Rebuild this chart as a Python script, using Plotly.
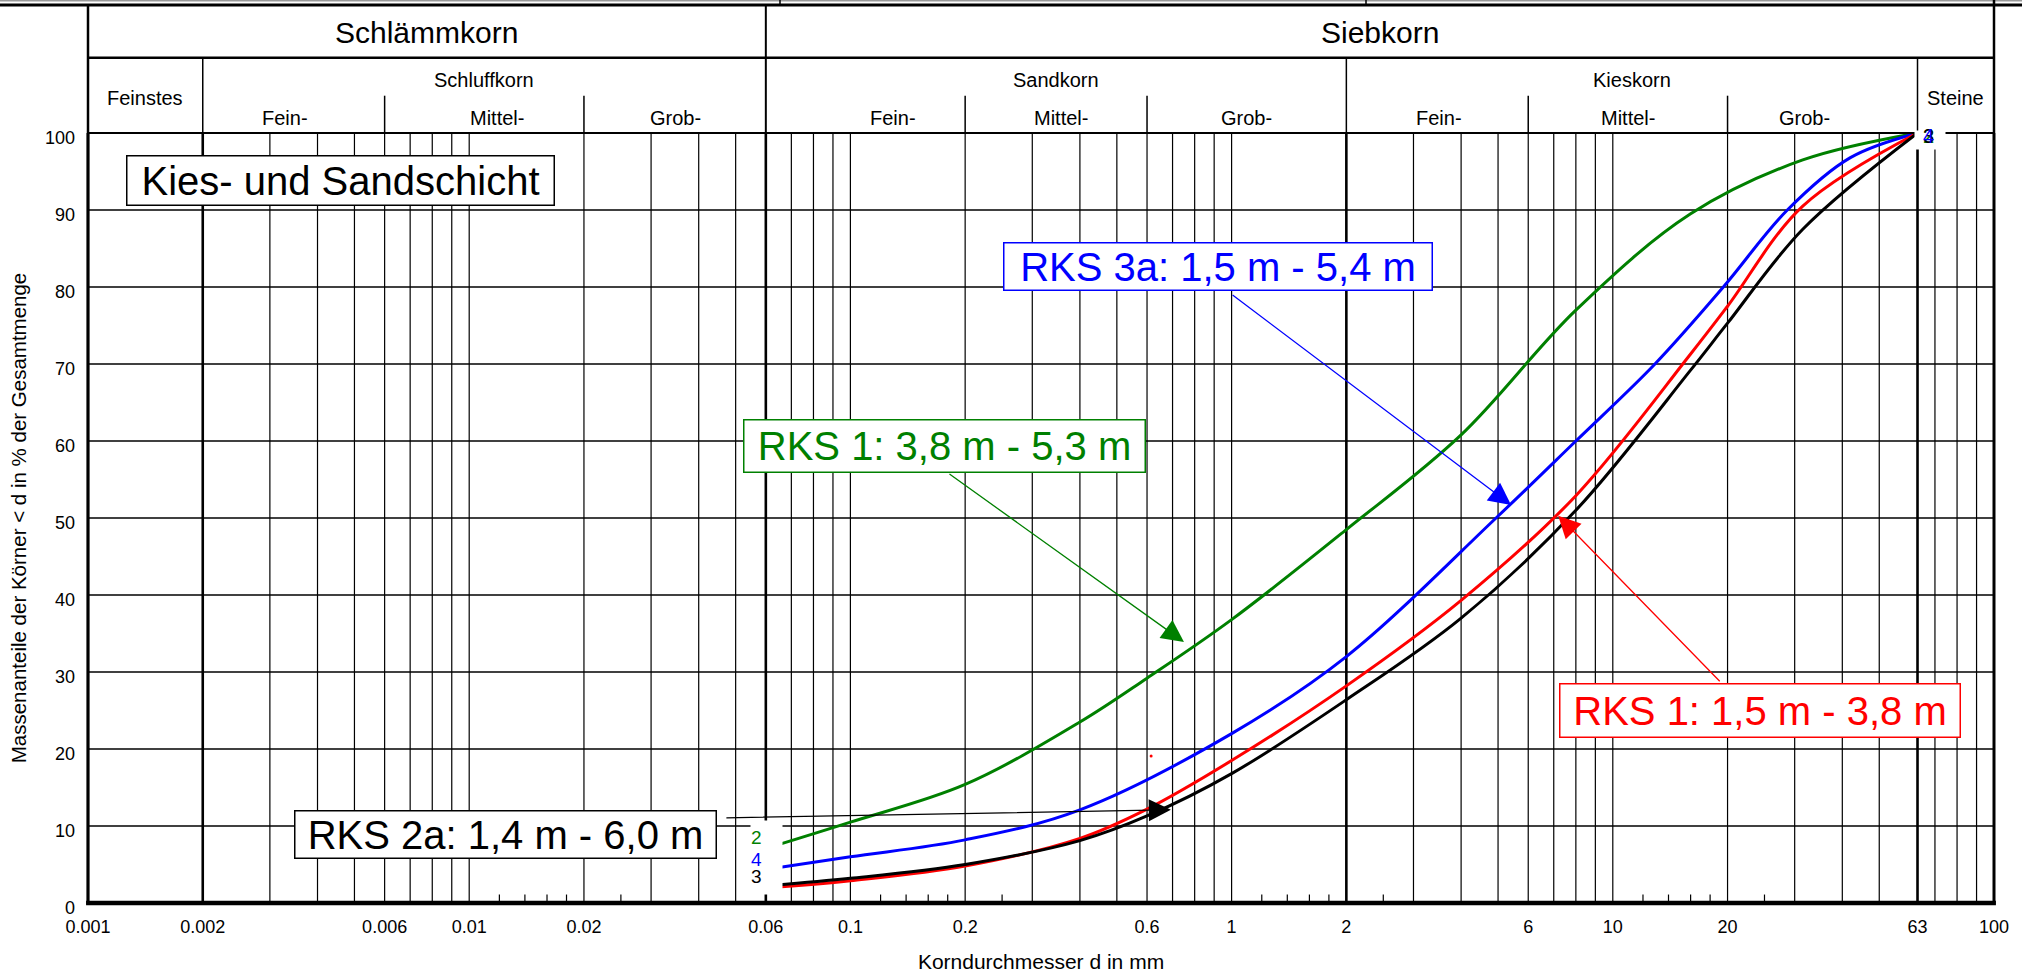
import numpy as np
import plotly.graph_objects as go

# ---------------- data ----------------
green_d   = [0.063, 0.1, 0.2, 0.4, 0.6, 1, 2, 4, 8, 16, 31.5, 63]
green_pct = [7.4, 10.5, 15.4, 23.5, 29.2, 36.8, 48.5, 60.8, 77.0, 89.5, 96.5, 100]

blue_d    = [0.063, 0.1, 0.2, 0.4, 1, 2, 4.94, 8.0, 12.9, 19.5, 28.7, 42, 63]
blue_pct  = [4.5, 6.0, 8.2, 12.1, 22.0, 32.0, 50, 60, 70, 80, 90, 96.8, 100]

red_d     = [0.066, 0.1, 0.2, 0.4, 0.6, 1, 2, 4, 8, 16, 20, 31.5, 63]
red_pct   = [2.1, 2.9, 4.8, 8.4, 12.2, 18.5, 28.2, 39.3, 52.9, 71.3, 77.5, 90.5, 100]

black_d   = [0.063, 0.1, 0.2, 0.4, 0.6, 1, 2, 4, 8, 16, 20, 31.5, 63]
black_pct = [2.3, 3.2, 5.0, 8.1, 11.3, 16.8, 26.4, 37.0, 51.0, 69.2, 75.3, 87.5, 100]

stray_d, stray_pct = [0.615], [19.1]

curve_labels = ["2", "4", "1", "3"]  # green, blue, red, black

# arrow tips (data) for the sample labels
tip_d   = [5.41, 0.75, 7.19, 0.693]
tip_pct = [51.7, 33.9, 50.3, 12.1]

x_tickvals = [0.001, 0.002, 0.006, 0.01, 0.02, 0.06, 0.1, 0.2, 0.6, 1, 2, 6, 10, 20, 63, 100]
x_ticktext = ["0.001", "0.002", "0.006", "0.01", "0.02", "0.06", "0.1", "0.2", "0.6", "1", "2", "6", "10", "20", "63", "100"]
y_tickvals = [0, 10, 20, 30, 40, 50, 60, 70, 80, 90, 100]

thin_lines  = [0.003, 0.004, 0.005, 0.006, 0.007, 0.008, 0.009, 0.01, 0.02, 0.03, 0.04, 0.05,
               0.07, 0.08, 0.09, 0.1, 0.2, 0.3, 0.4, 0.5, 0.6, 0.7, 0.8, 0.9, 1,
               3, 4, 5, 6, 7, 8, 9, 10, 20, 30, 40, 50, 70, 80, 90]
thick_lines = [0.002, 0.06, 2, 63]
short_ticks = [0.012, 0.014, 0.016, 0.018, 0.025, 0.12, 0.14, 0.16, 0.18, 0.25,
               1.2, 1.4, 1.6, 1.8, 2.5, 12, 14, 16, 18, 25]
h_lines     = [10, 20, 30, 40, 50, 60, 70, 80, 90]

# header classification (boundaries in mm)
main_groups = [("Schlämmkorn", 0.001, 0.06), ("Siebkorn", 0.06, 100)]
sub_groups  = [("Feinstes", 0.001, 0.002), ("Schluffkorn", 0.002, 0.06), ("Sandkorn", 0.06, 2),
               ("Kieskorn", 2, 63), ("Steine", 63, 100)]
fraction_dividers = [0.006, 0.02, 0.2, 0.6, 6, 20]
fraction_labels = ["Fein-", "Mittel-", "Grob-"]

# ---------------- layout geometry ----------------
W, H = 2022, 977
PL, PR, PT, PB = 88, 1994, 133, 903
FONT = "Liberation Sans, Arial, sans-serif"


def px2x(px):
    return (px - PL) / (PR - PL)


def px2y(py):
    return (PB - py) / (PB - PT)


def d2x(d):
    return (np.log10(d) + 3) / 5


def vlines(vals, y0, y1):
    xs, ys = [], []
    for v in vals:
        xs += [v, v, None]
        ys += [y0, y1, None]
    return xs, ys


fig = go.Figure()

# grid
xs, ys = vlines(thin_lines, 0, 100)
fig.add_trace(go.Scatter(x=xs, y=ys, mode="lines", line=dict(color="black", width=1.2), hoverinfo="skip"))
xs, ys = vlines(thick_lines, 0, 100)
fig.add_trace(go.Scatter(x=xs, y=ys, mode="lines", line=dict(color="black", width=2.6), hoverinfo="skip"))
xs, ys = vlines(short_ticks, 0, 1.1)
fig.add_trace(go.Scatter(x=xs, y=ys, mode="lines", line=dict(color="black", width=1.2), hoverinfo="skip"))
hx, hy = [], []
for v in h_lines:
    hx += [0.001, 100, None]
    hy += [v, v, None]
fig.add_trace(go.Scatter(x=hx, y=hy, mode="lines", line=dict(color="black", width=1.6), hoverinfo="skip"))

# curves
series = [(green_d, green_pct, "#008000"), (blue_d, blue_pct, "#0000ff"),
          (red_d, red_pct, "#ff0000"), (black_d, black_pct, "#000000")]
for d, p, c in series:
    fig.add_trace(go.Scatter(x=d, y=p, mode="lines", line=dict(color=c, width=3, shape="spline", smoothing=1.0),
                             hoverinfo="skip"))
fig.add_trace(go.Scatter(x=stray_d, y=stray_pct, mode="markers", marker=dict(color="#ff0000", size=3),
                         hoverinfo="skip"))

shapes = []
# plot borders
shapes.append(dict(type="line", xref="paper", yref="paper", x0=0, x1=0, y0=-0.002, y1=1, line=dict(color="black", width=3.2)))
shapes.append(dict(type="line", xref="paper", yref="paper", x0=1, x1=1, y0=-0.002, y1=1, line=dict(color="black", width=3)))
shapes.append(dict(type="line", xref="paper", yref="paper", x0=-0.001, x1=1.001, y0=0, y1=0, line=dict(color="black", width=4.5)))
shapes.append(dict(type="line", xref="paper", yref="paper", x0=0, x1=1, y0=1, y1=1, line=dict(color="black", width=2.2)))

# header frame
y_top, y_row, y_sub = px2y(5), px2y(57.7), px2y(95.7)
shapes.append(dict(type="line", xref="paper", yref="paper", x0=px2x(0), x1=px2x(W), y0=y_top, y1=y_top, line=dict(color="black", width=3)))
shapes.append(dict(type="line", xref="paper", yref="paper", x0=px2x(0), x1=px2x(W), y0=px2y(0.8), y1=px2y(0.8), line=dict(color="#999999", width=1.5)))
for xpx in [780, 1366]:
    shapes.append(dict(type="line", xref="paper", yref="paper", x0=px2x(xpx), x1=px2x(xpx), y0=px2y(0), y1=y_top, line=dict(color="black", width=1.5)))
shapes.append(dict(type="line", xref="paper", yref="paper", x0=0, x1=1, y0=y_row, y1=y_row, line=dict(color="black", width=2.5)))
shapes.append(dict(type="line", xref="paper", yref="paper", x0=0, x1=0, y0=1, y1=y_top, line=dict(color="black", width=2.5)))
shapes.append(dict(type="line", xref="paper", yref="paper", x0=1, x1=1, y0=1, y1=px2y(0), line=dict(color="black", width=2.5)))
for name, a, b in main_groups[1:]:
    shapes.append(dict(type="line", xref="paper", yref="paper", x0=d2x(a), x1=d2x(a), y0=1, y1=y_top, line=dict(color="black", width=2)))
for name, a, b in sub_groups[1:]:
    if a == 0.06:
        continue
    shapes.append(dict(type="line", xref="paper", yref="paper", x0=d2x(a), x1=d2x(a), y0=1, y1=y_row, line=dict(color="black", width=1.5)))
for v in fraction_dividers:
    shapes.append(dict(type="line", xref="paper", yref="paper", x0=d2x(v), x1=d2x(v), y0=1, y1=y_sub, line=dict(color="black", width=1.5)))

ann = []
C = dict(xanchor="center", yanchor="middle")
# header texts
for name, a, b in main_groups:
    ann.append(dict(text=name, xref="paper", yref="paper", x=(d2x(a) + d2x(b)) / 2, y=px2y(33),
                    showarrow=False, font=dict(size=30, family=FONT, color="black"), **C))
for name, a, b in sub_groups:
    yy = px2y(98) if name in ("Feinstes", "Steine") else px2y(80)
    ann.append(dict(text=name, xref="paper", yref="paper", x=(d2x(a) + d2x(b)) / 2, y=yy,
                    showarrow=False, font=dict(size=20, family=FONT, color="black"), **C))
frac_px = [285, 497, 675, 893, 1061, 1246, 1439, 1628, 1804]
for i, xpx in enumerate(frac_px):
    ann.append(dict(text=fraction_labels[i % 3], xref="paper", yref="paper", x=px2x(xpx), y=px2y(118),
                    showarrow=False, font=dict(size=20, family=FONT, color="black"), **C))

# title box
ann.append(dict(text="Kies- und Sandschicht", xref="paper", yref="paper", x=px2x(340.5), y=px2y(180.5),
                showarrow=False, font=dict(size=40, family=FONT, color="black"), bgcolor="white",
                bordercolor="black", borderwidth=1.5, borderpad=0, width=426, height=48, **C))

# sample labels with arrows
boxes = [
    ("RKS 3a: 1,5 m - 5,4 m", "#0000ff", 1218, 266.5, 427, 46, -280, -211),
    ("RKS 1: 3,8 m - 5,3 m", "#008000", 944.5, 446, 400, 51, -236, -169),
    ("RKS 1: 1,5 m - 3,8 m", "#ff0000", 1760, 710.5, 399, 52, 163, 167),
    ("RKS 2a: 1,4 m - 6,0 m", "#000000", 505.5, 834.5, 420, 46, -446, 8),
]
for i, (txt, col, cx, cy, bw, bh, ax, ay) in enumerate(boxes):
    ann.append(dict(text="", x=np.log10(tip_d[i]), y=tip_pct[i], xref="x", yref="y", showarrow=True,
                    ax=ax, ay=ay, arrowcolor=col, arrowwidth=1.3, arrowhead=2, arrowsize=3.4, standoff=0))
    ann.append(dict(text=txt, xref="paper", yref="paper", x=px2x(cx), y=px2y(cy), showarrow=False,
                    font=dict(size=40, family=FONT, color=col), bgcolor="white", bordercolor=col,
                    borderwidth=1.5, borderpad=0, width=bw, height=bh, **C))

# white patch behind the curve numbers at the start of the curves
ann.append(dict(text="", x=np.log10(0.06), y=5.9, xref="x", yref="y", showarrow=False, xshift=1,
                width=29, height=71, bgcolor="white", **C))
for (d, p, c), lab in zip(series, curve_labels):
    if lab == "1":
        continue
    ann.append(dict(text=lab, x=np.log10(d[0]), y=p[0], xref="x", yref="y", showarrow=False,
                    xshift=-17, yshift=9, font=dict(size=19, family=FONT, color=c), **C))
# labels at 63 mm / 100 % (blue "4" drawn last, on top)
ann.append(dict(text="", x=np.log10(63), y=100, xref="x", yref="y", showarrow=False, xshift=12, yshift=-7,
                width=28, height=16, bgcolor="white", **C))
end_order = [0, 3, 1]  # green "2", black "3", blue "4"
for k in end_order:
    d, p, c = series[k]
    ann.append(dict(text=curve_labels[k], x=np.log10(d[-1]), y=p[-1], xref="x", yref="y", showarrow=False,
                    xshift=11, yshift=-3, font=dict(size=20, family=FONT, color=c), **C))

fig.update_layout(
    width=W, height=H,
    margin=dict(l=PL, r=W - PR, t=PT, b=H - PB, pad=0, autoexpand=False),
    paper_bgcolor="white", plot_bgcolor="white",
    showlegend=False,
    shapes=shapes, annotations=ann,
    font=dict(family=FONT, color="black"),
    xaxis=dict(type="log", range=[-3, 2], tickvals=x_tickvals, ticktext=x_ticktext, showgrid=False,
               zeroline=False, showline=False, ticks="", tickfont=dict(size=18, family=FONT),
               ticklabelstandoff=11, automargin=False,
               title=dict(text="Korndurchmesser d in mm", font=dict(size=21, family=FONT), standoff=18)),
    yaxis=dict(range=[0, 100], tickvals=y_tickvals, showgrid=False, zeroline=False, showline=False, ticks="",
               tickfont=dict(size=18, family=FONT), ticklabelstandoff=12, ticklabelshift=5, automargin=False,
               title=dict(text="Massenanteile der Körner < d in % der Gesamtmenge", font=dict(size=20.5, family=FONT),
                          standoff=12)),
)

fig.write_html("out.html", config={"displayModeBar": False},
               post_script="document.body.style.margin='0px';")
